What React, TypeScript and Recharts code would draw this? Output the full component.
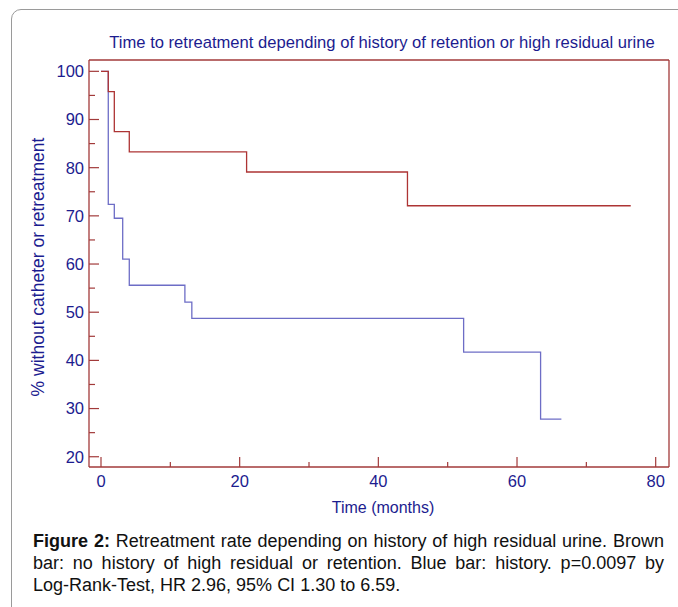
import React from 'react';
import { LineChart, Line, XAxis, YAxis, ReferenceLine } from 'recharts';

// Kaplan-Meier step data (time in months, % without catheter or retreatment)
const noHistoryTime = [0, 1.05, 1.92, 4.08, 21.0, 44.2, 76.4];
const noHistorySurvival = [100, 95.8, 87.5, 83.3, 79.1, 72.1, 72.1];
const historyTime = [0, 1.05, 1.92, 3.13, 4.08, 12.1, 13.1, 52.3, 63.4, 66.4];
const historySurvival = [100, 72.4, 69.5, 61.0, 55.6, 52.1, 48.7, 41.7, 27.8, 27.8];

const xTicks = [0, 10, 20, 30, 40, 50, 60, 70, 80];
const xLabelledTicks = [0, 20, 40, 60, 80];
const yTicks = [20, 25, 30, 35, 40, 45, 50, 55, 60, 65, 70, 75, 80, 85, 90, 95, 100];
const yLabelledTicks = [20, 30, 40, 50, 60, 70, 80, 90, 100];
const xDomain = [-1.73, 81.92];
const yDomain = [17.87, 102.35];

const titleText = 'Time to retreatment depending of history of retention or high residual urine';
const xLabelText = 'Time (months)';
const yLabelText = '% without catheter or retreatment';

const noHistoryData = noHistoryTime.map((t, i) => ({ t, v: noHistorySurvival[i] }));
const historyData = historyTime.map((t, i) => ({ t, v: historySurvival[i] }));

const FONT = '"Liberation Sans", Arial, sans-serif';
const TEXT = '#1c1c8f';
const FRAME = '#a23a3a';
const RED = '#ad3434';
const BLUE = '#6d6dc6';

const XTick = (props: any) => {
  const { x, y, payload } = props;
  const labelled = xLabelledTicks.includes(payload.value);
  return (
    <g>
      <line x1={x} x2={x} y1={y} y2={y - (labelled ? 10 : 5)} stroke={FRAME} strokeWidth={1.2} />
      {labelled && (
        <text x={x} y={y + 8} dy="0.71em" textAnchor="middle" fill={TEXT} fontSize={16.5} fontFamily={FONT}>
          {payload.value}
        </text>
      )}
    </g>
  );
};

const YTick = (props: any) => {
  const { x, y, payload } = props;
  const labelled = yLabelledTicks.includes(payload.value);
  return (
    <g>
      <line x1={x} x2={x + (labelled ? 10 : 6)} y1={y} y2={y} stroke={FRAME} strokeWidth={1.2} />
      {labelled && (
        <text x={x - 5} y={y} dy="0.355em" textAnchor="end" fill={TEXT} fontSize={16.5} fontFamily={FONT}>
          {payload.value}
        </text>
      )}
    </g>
  );
};

export default function App() {
  return (
    <div style={{ position: 'absolute', left: 0, top: 0, width: 678, height: 607, background: '#fff', overflow: 'hidden', fontFamily: FONT }}>
      <div style={{ position: 'absolute', left: 11, top: 9, width: 700, height: 640, border: '1px solid #9a9a9a', borderRadius: 10, boxSizing: 'border-box' }} />
      <div style={{ position: 'absolute', left: 0, top: 0 }}>
        <LineChart width={678} height={520} margin={{ top: 60, right: 9, bottom: 0, left: 0 }}>
          <XAxis dataKey="t" type="number" domain={xDomain} allowDataOverflow ticks={xTicks} interval={0}
            height={53} tickLine={false} tickSize={0} tickMargin={0}
            stroke={FRAME} axisLine={{ stroke: FRAME, strokeWidth: 1.3 }}
            tick={<XTick />} />
          <YAxis type="number" domain={yDomain} allowDataOverflow ticks={yTicks} interval={0}
            width={89} tickLine={false} tickSize={0} tickMargin={0}
            stroke={FRAME} axisLine={{ stroke: FRAME, strokeWidth: 1.3 }}
            tick={<YTick />} />
          <ReferenceLine y={yDomain[1]} stroke={FRAME} strokeWidth={1.3} ifOverflow="visible" />
          <ReferenceLine x={xDomain[1]} stroke={FRAME} strokeWidth={1.3} ifOverflow="visible" />
          <Line data={historyData} dataKey="v" type="stepAfter" stroke={BLUE} strokeWidth={1.3}
            dot={false} activeDot={false} isAnimationActive={false} />
          <Line data={noHistoryData} dataKey="v" type="stepAfter" stroke={RED} strokeWidth={1.3}
            dot={false} activeDot={false} isAnimationActive={false} />
        </LineChart>
      </div>
      <div style={{ position: 'absolute', left: 82, width: 600, top: 34, textAlign: 'center', fontSize: 16.6, lineHeight: '18px', color: TEXT, whiteSpace: 'nowrap' }}>{titleText}</div>
      <div style={{ position: 'absolute', left: 233, width: 300, top: 499, textAlign: 'center', fontSize: 16, lineHeight: '18px', color: TEXT }}>{xLabelText}</div>
      <div style={{ position: 'absolute', left: 37.5 - 150, top: 266.5 - 10, width: 300, height: 20, lineHeight: '20px', textAlign: 'center', fontSize: 17.5, color: TEXT, transform: 'rotate(-90deg)', whiteSpace: 'nowrap' }}>{yLabelText}</div>
      <div style={{ position: 'absolute', left: 33, top: 530, width: 631, fontSize: 18, lineHeight: '22px', color: '#111', textAlign: 'justify' }}>
        <b>Figure 2:</b> Retreatment rate depending on history of high residual urine. Brown bar: no history of high residual or retention. Blue bar: history. p=0.0097 by <span style={{ whiteSpace: 'nowrap' }}>Log-Rank-Test,</span> HR 2.96, 95% CI 1.30 to 6.59.
      </div>
    </div>
  );
}
